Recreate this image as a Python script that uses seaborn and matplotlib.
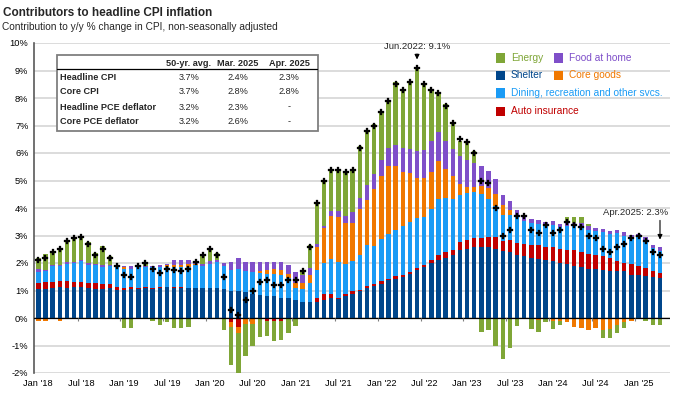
import numpy as np
import matplotlib
matplotlib.use("Agg")
import matplotlib.pyplot as plt
from matplotlib.patches import Rectangle
from matplotlib.lines import Line2D
import seaborn as sns

# ── Ukuran gambar (px) ──
W, H = 678, 399

# ─────────────────────────────────────────────
# DATA: kontribusi ke CPI y/y (%), Jan 2018 - Apr 2025
# ─────────────────────────────────────────────

shelter = [
    1.07, 1.05, 1.09, 1.12, 1.10, 1.12, 1.12, 1.09, 1.07, 1.07, 1.08, 1.03,
    1.03, 1.05, 1.07, 1.09, 1.07, 1.09, 1.11, 1.08, 1.10, 1.08, 1.08, 1.08,
    1.08, 1.08, 1.04, 1.00, 0.97, 0.93, 0.88, 0.85, 0.81, 0.79, 0.73, 0.71,
    0.64, 0.59, 0.59, 0.60, 0.64, 0.72, 0.69, 0.79, 0.87, 0.97, 1.09, 1.15,
    1.25, 1.37, 1.42, 1.49, 1.60, 1.73, 1.84, 2.00, 2.10, 2.20, 2.28, 2.48,
    2.51, 2.57, 2.57, 2.57, 2.52, 2.42, 2.39, 2.30, 2.24, 2.20, 2.15, 2.12,
    2.08, 2.00, 1.98, 1.90, 1.85, 1.78, 1.78, 1.76, 1.70, 1.72, 1.70, 1.58,
    1.58, 1.52, 1.50, 1.45,
]
auto_insurance = [
    0.20, 0.25, 0.21, 0.21, 0.23, 0.19, 0.19, 0.18, 0.20, 0.18, 0.17, 0.09,
    0.07, 0.07, 0.03, 0.04, 0.03, 0.02, 0.01, 0.03, 0.02, 0.02, 0.02, 0.02,
    0.02, 0.02, 0.01, -0.15, -0.34, -0.03, 0.00, -0.03, -0.10, -0.12, -0.12, -0.03,
    0.00, -0.02, 0.00, 0.12, 0.24, 0.15, 0.02, 0.08, 0.10, 0.06, 0.09, 0.09,
    0.08, 0.06, 0.10, 0.06, 0.07, 0.09, 0.10, 0.12, 0.18, 0.19, 0.20, 0.28,
    0.34, 0.34, 0.34, 0.38, 0.41, 0.39, 0.43, 0.44, 0.45, 0.44, 0.49, 0.48,
    0.49, 0.51, 0.50, 0.58, 0.54, 0.55, 0.52, 0.48, 0.48, 0.36, 0.30, 0.40,
    0.30, 0.30, 0.20, 0.19,
]
dining_other = [
    0.40, 0.40, 0.58, 0.55, 0.63, 0.69, 0.75, 0.67, 0.65, 0.60, 0.63, 0.72,
    0.69, 0.66, 0.74, 0.71, 0.74, 0.73, 0.72, 0.73, 0.72, 0.74, 0.82, 0.80,
    0.88, 0.92, 0.85, 0.73, 0.81, 0.77, 0.78, 0.79, 0.79, 0.82, 0.82, 0.73,
    0.45, 0.46, 0.68, 1.01, 1.12, 1.28, 1.31, 1.11, 1.09, 1.25, 1.46, 1.39,
    1.54, 1.64, 1.69, 1.78, 1.81, 1.82, 1.73, 1.85, 2.05, 1.97, 1.86, 1.72,
    1.70, 1.69, 1.61, 1.39, 1.13, 0.95, 0.94, 0.96, 0.85, 0.81, 0.79, 0.76,
    0.82, 0.79, 0.85, 0.86, 0.94, 0.88, 0.85, 0.89, 0.87, 1.01, 0.99, 0.93,
    1.09, 1.03, 0.85, 0.78,
]
core_goods = [
    -0.12, -0.12, -0.05, -0.10, -0.05, -0.05, -0.05, -0.05, -0.05, -0.05, -0.05, -0.03,
    0.05, 0.02, 0.00, -0.03, -0.03, 0.00, 0.08, 0.10, 0.10, 0.13, 0.04, 0.00,
    -0.03, -0.03, -0.03, -0.18, -0.21, -0.19, -0.20, 0.06, 0.16, 0.17, 0.21, 0.16,
    0.18, 0.22, 0.31, 0.85, 1.27, 1.55, 1.65, 1.47, 1.39, 1.68, 1.66, 2.06,
    2.28, 2.45, 2.33, 1.97, 1.79, 1.45, 1.42, 1.35, 1.39, 1.06, 0.81, 0.40,
    0.21, 0.15, 0.27, 0.39, 0.46, 0.34, 0.16, 0.00, -0.02, -0.05, -0.08, -0.02,
    -0.10, -0.10, -0.16, -0.33, -0.36, -0.42, -0.36, -0.42, -0.40, -0.24, -0.16, -0.12,
    -0.03, -0.03, 0.00, 0.00,
]
food_at_home = [
    0.10, 0.06, 0.06, 0.06, 0.06, 0.04, 0.04, 0.06, 0.04, 0.07, 0.05, 0.05,
    0.06, 0.10, 0.06, 0.06, 0.06, 0.10, 0.06, 0.18, 0.16, 0.15, 0.08, 0.08,
    0.08, 0.10, 0.10, 0.32, 0.39, 0.32, 0.36, 0.32, 0.26, 0.24, 0.26, 0.31,
    0.40, 0.29, 0.24, 0.12, 0.06, 0.18, 0.21, 0.27, 0.39, 0.40, 0.55, 0.55,
    0.61, 0.66, 0.76, 0.88, 0.88, 0.97, 1.03, 1.10, 1.03, 1.00, 1.00, 1.02,
    1.00, 0.89, 0.73, 0.63, 0.53, 0.38, 0.35, 0.24, 0.14, 0.16, 0.15, 0.12,
    0.13, 0.12, 0.12, 0.10, 0.12, 0.12, 0.12, 0.12, 0.13, 0.12, 0.13, 0.12,
    0.08, 0.08, 0.12, 0.16,
]
energy = [
    0.41, 0.57, 0.46, 0.58, 0.83, 0.91, 0.90, 0.75, 0.40, 0.68, 0.31, 0.05,
    -0.36, -0.38, -0.05, 0.10, -0.07, -0.25, -0.15, -0.35, -0.38, -0.33, 0.02, 0.30,
    0.47, 0.24, -0.42, -1.39, -1.45, -1.15, -0.83, -0.67, -0.55, -0.70, -0.69, -0.50,
    -0.28, 0.14, 0.83, 1.48, 1.67, 1.54, 1.51, 1.55, 1.55, 1.88, 2.00, 1.83,
    1.74, 1.74, 2.27, 2.10, 2.45, 3.01, 2.43, 1.86, 1.45, 1.36, 0.97, 0.55,
    0.66, 0.42, -0.51, -0.43, -1.00, -1.50, -1.09, -0.28, 0.03, -0.36, -0.42, -0.14,
    -0.30, -0.14, 0.22, 0.22, 0.22, 0.09, 0.00, -0.31, -0.33, -0.31, -0.20, 0.00,
    0.00, -0.08, -0.24, -0.24,
]
headline_cpi = [
    2.1, 2.2, 2.4, 2.5, 2.8, 2.9, 2.95, 2.7, 2.3, 2.5, 2.2, 1.9,
    1.55, 1.5, 1.9, 2.0, 1.8, 1.65, 1.8, 1.75, 1.7, 1.8, 2.05, 2.3,
    2.5, 2.3, 1.5, 0.3, 0.1, 0.65, 1.0, 1.3, 1.4, 1.2, 1.2, 1.4,
    1.4, 1.7, 2.6, 4.2, 5.0, 5.4, 5.4, 5.3, 5.4, 6.2, 6.8, 7.0,
    7.5, 7.9, 8.5, 8.3, 8.6, 9.1, 8.5, 8.3, 8.2, 7.7, 7.1, 6.5,
    6.4, 6.0, 5.0, 4.9, 4.0, 3.0, 3.2, 3.7, 3.7, 3.2, 3.1, 3.4,
    3.1, 3.2, 3.5, 3.4, 3.3, 3.0, 2.9, 2.5, 2.4, 2.6, 2.7, 2.9,
    3.0, 2.8, 2.4, 2.3,
]

month_labels = ["Jan '18", "Jul '18", "Jan '19", "Jul '19", "Jan '20", "Jul '20",
                "Jan '21", "Jul '21", "Jan '22", "Jul '22", "Jan '23", "Jul '23",
                "Jan '24", "Jul '24", "Jan '25"]

# ── Tabel ringkasan ──
table_cols = ["50-yr. avg.", "Mar. 2025", "Apr. 2025"]
table_rows = ["Headline CPI", "Core CPI", "Headline PCE deflator", "Core PCE deflator"]
table_vals = [["3.7%", "2.4%", "2.3%"],
              ["3.7%", "2.8%", "2.8%"],
              ["3.2%", "2.3%", "-"],
              ["3.2%", "2.6%", "-"]]

# ── Warna per komponen (urutan tumpukan dari bawah) ──
components = [
    ("Shelter", shelter, "#00468B"),
    ("Auto insurance", auto_insurance, "#C00000"),
    ("Dining, recreation and other svcs.", dining_other, "#1A9BF5"),
    ("Core goods", core_goods, "#F07800"),
    ("Food at home", food_at_home, "#7F4FC9"),
    ("Energy", energy, "#7FA637"),
]
colors = {name: c for name, _, c in components}


def px(x, y):
    """Koordinat piksel -> fraksi figure."""
    return x / W, 1 - y / H


sns.set_theme(style="white")
plt.rcParams["font.family"] = ["Liberation Sans", "DejaVu Sans"]

fig = plt.figure(figsize=(W / 100, H / 100), dpi=100)
fig.patch.set_facecolor("white")
ax = fig.add_axes([34 / W, 1 - 373 / H, (670 - 34) / W, (373 - 43) / H])

x = np.arange(len(shelter))

# ── Stacked bar (positif ke atas, negatif ke bawah) ──
pos_base = np.zeros(len(x))
neg_base = np.zeros(len(x))
for name, vals, col in components:
    v = np.array(vals)
    bottom = np.where(v >= 0, pos_base, neg_base)
    ax.bar(x, v, bottom=bottom, width=0.62, color=col, linewidth=0, zorder=2)
    pos_base += np.clip(v, 0, None)
    neg_base += np.clip(v, None, 0)

# ── Titik headline CPI ──
sns.scatterplot(x=x, y=headline_cpi, marker="P", s=13, color="black",
                edgecolor="black", linewidth=0.2, zorder=4, ax=ax, legend=False)

# ── Sumbu ──
ax.set_xlim(-0.6, 88.4)
ax.set_ylim(-2, 10)
ax.set_yticks(range(-2, 11))
ax.set_yticklabels([f"{v}%" for v in range(-2, 11)], fontsize=6.7)
ax.set_xticks(range(0, 88, 6))
ax.set_xticklabels(month_labels, fontsize=6.7)
ax.tick_params(axis="both", length=0, pad=4, colors="black")
ax.yaxis.grid(True, color="#D9D9D9", lw=1.3)
ax.set_axisbelow(True)
for side in ["top", "right", "bottom"]:
    ax.spines[side].set_visible(False)
ax.spines["left"].set_color("#595959")
ax.spines["left"].set_linewidth(1.2)
ax.axhline(0, color="black", lw=0.9, zorder=3)
ax.vlines(np.arange(5.5, 88, 6), -0.12, 0, color="#7F7F7F", lw=0.8, zorder=3)

# ── Anotasi ──
ax.text(53, 9.87, "Jun.2022: 9.1%", ha="center", va="center", fontsize=6.8)
ax.annotate("", xy=(53, 9.3), xytext=(53, 9.7),
            arrowprops=dict(arrowstyle="-|>", color="black", lw=0.8, mutation_scale=7))
ax.text(88.1, 3.82, "Apr.2025: 2.3%", ha="right", va="center", fontsize=6.8)
ax.annotate("", xy=(87, 2.75), xytext=(87, 3.65),
            arrowprops=dict(arrowstyle="-|>", color="black", lw=0.8, mutation_scale=7))

# ── Judul ──
fig.text(*px(3, 13), "Contributors to headline CPI inflation", fontsize=8.5,
         fontweight="bold", va="center", ha="left")
fig.text(*px(2, 27), "Contribution to y/y % change in CPI, non-seasonally adjusted",
         fontsize=7.3, va="center", ha="left")

# ── Tabel ──
fig.add_artist(Rectangle(px(57, 131), 261 / W, 76 / H, transform=fig.transFigure,
                         facecolor="white", edgecolor="#7F7F7F", lw=1.3, zorder=5))
fig.add_artist(Line2D([57 / W, 317 / W], [1 - 69 / H] * 2, color="black", lw=0.9, zorder=6))
col_x = [189, 238, 289]
for cx, c in zip(col_x, table_cols):
    fig.text(*px(cx, 63), c, fontsize=6.6, fontweight="bold", ha="center", va="center", zorder=6)
for ry, r, vals in zip([77, 92, 107, 122], table_rows, table_vals):
    fig.text(*px(60, ry), r, fontsize=6.6, fontweight="bold", ha="left", va="center", zorder=6)
    for cx, v in zip(col_x, vals):
        fig.text(*px(cx, ry), v, fontsize=6.6, ha="center", va="center", zorder=6)

# ── Legenda manual ──
legend_items = [("Energy", 496, 58), ("Food at home", 554, 58),
                ("Shelter", 496, 75), ("Core goods", 554, 75),
                ("Dining, recreation and other svcs.", 496, 93),
                ("Auto insurance", 496, 111)]
for name, lx, ly in legend_items:
    fig.add_artist(Rectangle(px(lx, ly + 4.5), 9 / W, 9 / H, transform=fig.transFigure,
                             facecolor=colors[name], edgecolor="none", zorder=6))
    fig.text(*px(lx + 15, ly), name, color=colors[name], fontsize=7.3,
             ha="left", va="center", zorder=6)

fig.savefig("out.png", dpi=100, facecolor="white")
